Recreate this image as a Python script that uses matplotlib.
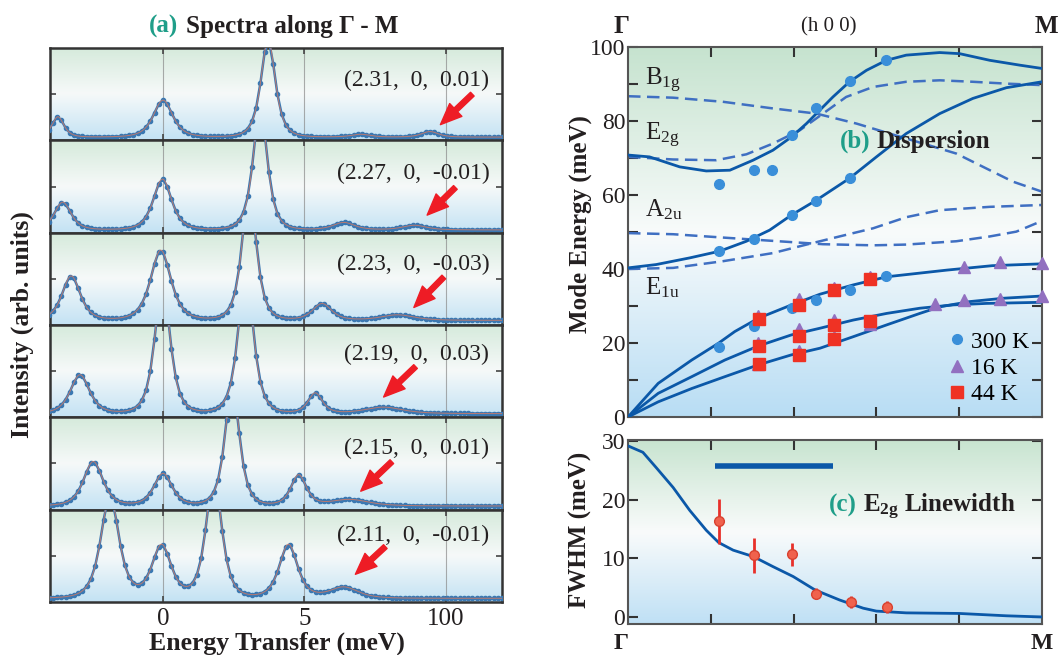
import numpy as np
import matplotlib.pyplot as plt
from matplotlib.colors import LinearSegmentedColormap

plt.rcParams['font.family'] = ['Liberation Serif', 'DejaVu Serif']
plt.rcParams['mathtext.fontset'] = 'custom'
plt.rcParams['mathtext.rm'] = 'Liberation Serif'
plt.rcParams['mathtext.it'] = 'Liberation Serif:italic'
plt.rcParams['mathtext.bf'] = 'Liberation Serif:bold'

# ---------------- (a) spectra: peak tables ----------------
q_labels = ["(2.31,  0,  0.01)", "(2.27,  0,  -0.01)", "(2.23,  0,  -0.03)",
            "(2.19,  0,  0.03)", "(2.15,  0,  0.01)", "(2.11,  0,  -0.01)"]
baselines = [0.035, 0.03, 0.05, 0.04, 0.04, 0.04]
peak_pos = [[-3.72, 0.0, 3.72, 7.0, 9.45],
            [-3.55, -0.02, 3.44, 6.4, 8.9],
            [-3.25, -0.08, 3.05, 5.63, 8.3],
            [-2.94, -0.02, 2.93, 5.39, 7.8],
            [-2.47, 0.0, 2.45, 4.8, 6.6],
            [-1.88, -0.05, 1.8, 4.44, 6.4]]
peak_amp = [[0.22, 0.40, 1.05, 0.03, 0.06],
            [0.30, 0.55, 1.30, 0.08, 0.05],
            [0.48, 0.76, 1.40, 0.18, 0.06],
            [0.42, 1.40, 1.50, 0.22, 0.07],
            [0.48, 0.35, 1.30, 0.33, 0.07],
            [1.10, 0.57, 1.30, 0.58, 0.12]]
peak_hwhm = [[0.25, 0.40, 0.30, 0.40, 0.35],
             [0.35, 0.38, 0.30, 0.45, 0.50],
             [0.38, 0.42, 0.30, 0.40, 0.70],
             [0.40, 0.32, 0.32, 0.30, 0.80],
             [0.40, 0.38, 0.30, 0.32, 0.80],
             [0.38, 0.40, 0.33, 0.38, 0.60]]
arrow_tail = [(10.95, 0.50), (10.35, 0.49), (9.94, 0.52), (8.94, 0.55), (8.10, 0.52), (7.87, 0.60)]
arrow_head = [(9.82, 0.17), (9.35, 0.19), (8.88, 0.19), (7.81, 0.22), (7.00, 0.20), (6.81, 0.30)]
label_y = [0.65, 0.64, 0.66, 0.68, 0.66, 0.72]
energy_ticks = [0, 5, 10]
energy_ticklabels = ['0', '5', '100']

# ---------------- (b) dispersion ----------------
s_e2g_x = [0, 0.052, 0.125, 0.189, 0.246, 0.302, 0.350, 0.395, 0.431, 0.463, 0.495, 0.535,
           0.576, 0.624, 0.672, 0.753, 0.801, 0.874, 0.946, 1.0]
s_e2g_y = [70.8, 70.3, 67.6, 66.5, 66.7, 69.4, 72.1, 75.7, 79.3, 82.9, 86.5, 90.6,
           93.7, 96.4, 97.8, 98.5, 98.2, 96.4, 95.1, 94.2]
s_a2u_x = [0, 0.068, 0.149, 0.221, 0.286, 0.342, 0.395, 0.455, 0.535, 0.600, 0.672, 0.753,
           0.833, 0.914, 1.0]
s_a2u_y = [40.3, 41.2, 43.0, 44.8, 47.5, 50.5, 54.6, 58.6, 64.5, 70.3, 76.6, 82.0,
           86.1, 89.0, 90.6]
s_ac3_x = [0, 0.073, 0.154, 0.218, 0.258, 0.315, 0.395, 0.464, 0.544, 0.625, 0.770, 0.880, 1.0]
s_ac3_y = [0, 9.1, 15.4, 19.9, 23.1, 26.7, 30.3, 33.2, 35.7, 37.9, 39.7, 40.9, 41.4]
s_ac2_x = [0, 0.073, 0.154, 0.234, 0.315, 0.395, 0.464, 0.544, 0.625, 0.705, 0.786, 0.866, 1.0]
s_ac2_y = [0, 6.4, 10.9, 15.4, 19.2, 22.2, 24.0, 26.2, 28.0, 29.4, 30.3, 30.7, 31.0]
s_ac1_x = [0, 0.073, 0.154, 0.234, 0.315, 0.395, 0.464, 0.544, 0.625, 0.705, 0.754, 0.826, 0.907, 1.0]
s_ac1_y = [0, 4.1, 7.7, 10.9, 14.1, 16.8, 18.6, 21.7, 24.9, 28.0, 29.8, 31.2, 32.1, 32.7]

d_b1g_x = [0, 0.109, 0.229, 0.350, 0.455, 0.552, 0.632, 0.713, 0.793, 0.874, 0.930, 1.0]
d_b1g_y = [86.7, 86.3, 85.2, 83.4, 82.0, 79.3, 76.6, 73.9, 71.2, 66.7, 63.6, 60.9]
d_e2g_x = [0, 0.109, 0.213, 0.286, 0.350, 0.415, 0.471, 0.527, 0.592, 0.672, 0.753, 0.833, 0.914, 1.0]
d_e2g_y = [70.3, 69.6, 69.4, 71.0, 73.9, 77.5, 82.0, 86.5, 89.2, 90.6, 91.0, 90.6, 90.1, 89.7]
d_a2u_x = [0, 0.109, 0.229, 0.350, 0.471, 0.592, 0.672, 0.793, 0.874, 0.938, 1.0]
d_a2u_y = [49.7, 49.4, 48.5, 47.6, 46.7, 46.4, 46.6, 47.5, 48.8, 50.1, 53.0]
d_e1u_x = [0, 0.109, 0.229, 0.350, 0.431, 0.511, 0.592, 0.672, 0.753, 0.874, 1.0]
d_e1u_y = [40.0, 40.3, 42.1, 44.3, 46.6, 48.8, 51.0, 54.0, 55.9, 56.8, 57.3]

t300_x = [0.219, 0.304, 0.349, 0.395, 0.453, 0.537, 0.624, 0.395, 0.453, 0.537,
          0.219, 0.304, 0.219, 0.304, 0.395, 0.453, 0.537, 0.624]
t300_y = [62.9, 66.7, 66.7, 76.2, 83.6, 90.7, 96.4, 54.6, 58.4, 64.5,
          44.8, 48.2, 18.8, 24.6, 29.4, 31.5, 34.4, 38.0]
t16_x = [0.315, 0.315, 0.315, 0.413, 0.413, 0.413, 0.497, 0.497, 0.497, 0.584, 0.584,
         0.741, 0.811, 0.811, 0.898, 0.898, 1.0, 1.0]
t16_y = [27.3, 20.1, 14.3, 32.0, 23.7, 17.9, 34.9, 26.1, 21.7, 37.8, 25.2,
         30.6, 40.5, 31.5, 41.9, 32.0, 41.6, 32.7]
t44_x = [0.316, 0.316, 0.316, 0.413, 0.413, 0.413, 0.497, 0.497, 0.497, 0.585, 0.585]
t44_y = [26.4, 19.2, 14.3, 30.4, 21.8, 16.7, 34.4, 25.0, 21.0, 37.2, 26.0]

mode_labels = [r'B$_{\mathrm{1g}}$', r'E$_{\mathrm{2g}}$', r'A$_{\mathrm{2u}}$', r'E$_{\mathrm{1u}}$']
mode_label_y = [89.7, 74.8, 54.3, 33.0]

# ---------------- (c) linewidth ----------------
fw_curve_x = [0, 0.036, 0.068, 0.109, 0.149, 0.189, 0.219, 0.254, 0.303, 0.350, 0.399, 0.452,
              0.511, 0.568, 0.600, 0.672, 0.800, 0.914, 1.0]
fw_curve_y = [29.2, 28.1, 25.5, 22.1, 18.2, 14.8, 12.7, 11.4, 10.3, 8.6, 6.9, 4.6,
              2.9, 1.5, 1.0, 0.7, 0.6, 0.2, 0.0]
fw_x = [0.220, 0.304, 0.396, 0.454, 0.539, 0.625]
fw_y = [16.3, 10.5, 10.7, 4.0, 2.5, 1.7]
fw_err = [3.8, 3.0, 2.0, 1.0, 1.0, 1.0]
bar_x = [0.211, 0.495]
bar_y = [25.8, 25.8]

teal = '#1f9e89'
dark = '#231f20'
red = '#ee1c25'


def gradient(ax, colors, stops):
    cmap = LinearSegmentedColormap.from_list('bg', list(zip(stops, colors)))
    xl, yl = ax.get_xlim(), ax.get_ylim()
    ax.imshow(np.linspace(0, 1, 256).reshape(-1, 1), cmap=cmap, aspect='auto',
              extent=(xl[0], xl[1], yl[0], yl[1]), origin='lower', zorder=0)
    ax.set_xlim(xl)
    ax.set_ylim(yl)


def peak_shape(x, c, h, hw):
    # squared lorentzian, hw = half width at half maximum
    w = hw / 0.6436
    return h / (1 + ((x - c) / w) ** 2) ** 2


fig = plt.figure(figsize=(10.58, 6.55), dpi=100)

# ---------- left stack ----------
left, width = 50 / 1058, 452 / 1058
bottom0 = 1 - 602 / 655
h_each = (554 / 655) / 6
energy = np.arange(-4.2, 12.3, 0.15)
energy_fine = np.linspace(-4.2, 12.3, 800)
for i in range(6):
    ax = fig.add_axes([left, bottom0 + (5 - i) * h_each, width, h_each])
    ax.set_xlim(-4, 12)
    ax.set_ylim(0, 1)
    gradient(ax, ['#c3e2f4', '#f6f9f9', '#d5eadb'], [0, 0.5, 1])
    for xv in energy_ticks:
        ax.axvline(xv, color='#8a8a8a', lw=0.8, alpha=0.7, zorder=1)
    y = np.full_like(energy, baselines[i])
    yf = np.full_like(energy_fine, baselines[i])
    for c, h, hw in zip(peak_pos[i], peak_amp[i], peak_hwhm[i]):
        y += peak_shape(energy, c, h, hw)
        yf += peak_shape(energy_fine, c, h, hw)
    ax.plot(energy, y, '-o', color='#3b78b2', lw=1.8, ms=3.0, zorder=3)
    ax.plot(energy_fine, yf, color='#e27a5c', lw=0.7, alpha=0.75, zorder=4)
    ax.text(11.55, label_y[i], q_labels[i], ha='right', va='center', fontsize=17, color=dark, zorder=5)
    ax.annotate('', xy=arrow_head[i], xytext=arrow_tail[i],
                arrowprops=dict(arrowstyle='simple,head_length=0.9,head_width=0.75,tail_width=0.22',
                                color=red, mutation_scale=17, shrinkA=0, shrinkB=0), zorder=6)
    ax.set_xticks(energy_ticks)
    ax.set_yticks([0.5])
    ax.tick_params(direction='in', top=True, right=True, length=4, width=1.2, colors='#444444',
                   labelleft=False, labelbottom=(i == 5), labelsize=18, pad=4)
    if i == 5:
        ax.set_xticklabels(energy_ticklabels)
        ax.tick_params(axis='x', labelcolor=dark)
    for sp in ax.spines.values():
        sp.set_color('#333333')
        sp.set_linewidth(1.8)

fig.text(0.1682, 0.959, '(a)', ha='right', va='center', fontsize=18, fontweight='bold', color=teal)
fig.text(0.1758, 0.959, 'Spectra along Γ - M', ha='left', va='center', fontsize=18,
         fontweight='bold', color=dark)
fig.text(0.262, 0.018, 'Energy Transfer (meV)', ha='center', va='center', fontsize=18.5,
         fontweight='bold', color=dark)
fig.text(0.021, 0.504, 'Intensity (arb. units)', ha='center', va='center', rotation=90,
         fontsize=18.5, fontweight='bold', color=dark)

# ---------- (b) dispersion ----------
axb = fig.add_axes([628 / 1058, 1 - 417 / 655, 414 / 1058, 370 / 655])
axb.set_xlim(0, 1)
axb.set_ylim(0, 100)
gradient(axb, ['#b8ddf4', '#f8fbfb', '#c6e3cf'], [0, 0.5, 1])
dash_kw = dict(color='#3f6fc2', lw=1.8, dashes=(5, 2.6), zorder=2)
for xs, ys in [(d_b1g_x, d_b1g_y), (d_e2g_x, d_e2g_y), (d_a2u_x, d_a2u_y), (d_e1u_x, d_e1u_y)]:
    axb.plot(xs, ys, **dash_kw)
for xs, ys in [(s_e2g_x, s_e2g_y), (s_a2u_x, s_a2u_y), (s_ac3_x, s_ac3_y),
               (s_ac2_x, s_ac2_y), (s_ac1_x, s_ac1_y)]:
    axb.plot(xs, ys, color='#0b58a8', lw=2, zorder=3)
axb.plot(t300_x, t300_y, 'o', color='#3a8fd9', ms=7, ls='none', zorder=4, label='300 K')
axb.plot(t16_x, t16_y, '^', color='#9270c0', ms=9, ls='none', zorder=5, label='16 K', clip_on=False)
axb.plot(t44_x, t44_y, 's', color='#ef3224', ms=9, ls='none', zorder=6, label='44 K')
axb.legend(loc='lower right', bbox_to_anchor=(0.97, 0.032), frameon=False, fontsize=17,
           handlelength=0.6, handletextpad=0.3, labelspacing=0.2, borderaxespad=0, borderpad=0)
for lab, yv in zip(mode_labels, mode_label_y):
    axb.text(0.041, yv, lab, ha='left', va='baseline', fontsize=18, color=dark)
axb.text(0.585, 72.8, '(b)', ha='right', va='baseline', fontsize=18, fontweight='bold', color=teal)
axb.text(0.601, 72.8, 'Dispersion', ha='left', va='baseline', fontsize=18, fontweight='bold', color=dark)
axb.text(-0.015, 1.055, 'Γ', transform=axb.transAxes, ha='center', va='center', fontsize=18,
         fontweight='bold', color=dark)
axb.text(1.01, 1.055, 'M', transform=axb.transAxes, ha='center', va='center', fontsize=18,
         fontweight='bold', color=dark)
axb.text(0.486, 1.055, '(h 0 0)', transform=axb.transAxes, ha='center', va='center', fontsize=15,
         color=dark)
axb.set_xticks([0.2, 0.4, 0.6, 0.8])
axb.set_yticks([0, 20, 40, 60, 80, 100])
axb.set_yticks([10, 30, 50, 70, 90], minor=True)
axb.tick_params(which='both', direction='in', top=True, right=True, length=7, width=1.5,
                colors='#333333', labelbottom=False, labelsize=17, pad=2, labelcolor=dark)
for sp in axb.spines.values():
    sp.set_color('#555555')
    sp.set_linewidth(1.5)
fig.text(580 / 1058, 1 - 224 / 655, 'Mode Energy (meV)', ha='center', va='center', rotation=90,
         fontsize=18, fontweight='bold', color=dark)

# ---------- (c) linewidth ----------
axc = fig.add_axes([628 / 1058, 1 - 624 / 655, 414 / 1058, 184 / 655])
axc.set_xlim(0, 1)
axc.set_ylim(-1.2, 30.2)
gradient(axc, ['#bfe0f5', '#f9fbfb', '#c8e4d0'], [0, 0.5, 1])
axc.plot(fw_curve_x, fw_curve_y, color='#0b58a8', lw=2, zorder=3)
axc.plot(bar_x, bar_y, color='#0b58a8', lw=4, solid_capstyle='butt', zorder=3)
axc.errorbar(fw_x, fw_y, yerr=fw_err, fmt='o', color='#f0624d', mec='#d9412f', ms=7,
             ecolor='#e8302a', elinewidth=2, capsize=0, zorder=4)
axc.text(0.553, 17.9, '(c)', ha='right', va='baseline', fontsize=18, fontweight='bold', color=teal)
axc.text(0.568, 17.9, r'$\mathbf{E_{2g}}$ Linewidth', ha='left', va='baseline', fontsize=18,
         fontweight='bold', color=dark)
axc.text(-0.017, -0.108, 'Γ', transform=axc.transAxes, ha='center', va='center', fontsize=17,
         fontweight='bold', color=dark)
axc.text(1.0, -0.108, 'M', transform=axc.transAxes, ha='center', va='center', fontsize=17,
         fontweight='bold', color=dark)
axc.set_xticks([0.2, 0.4, 0.6, 0.8])
axc.set_yticks([0, 10, 20, 30])
axc.tick_params(direction='in', top=True, right=True, length=7, width=1.5, colors='#333333',
                labelbottom=False, labelsize=17, pad=2, labelcolor=dark)
for sp in axc.spines.values():
    sp.set_color('#555555')
    sp.set_linewidth(1.5)
fig.text(580 / 1058, 1 - 530 / 655, 'FWHM (meV)', ha='center', va='center', rotation=90,
         fontsize=18, fontweight='bold', color=dark)

fig.savefig('out.png', dpi=100)
